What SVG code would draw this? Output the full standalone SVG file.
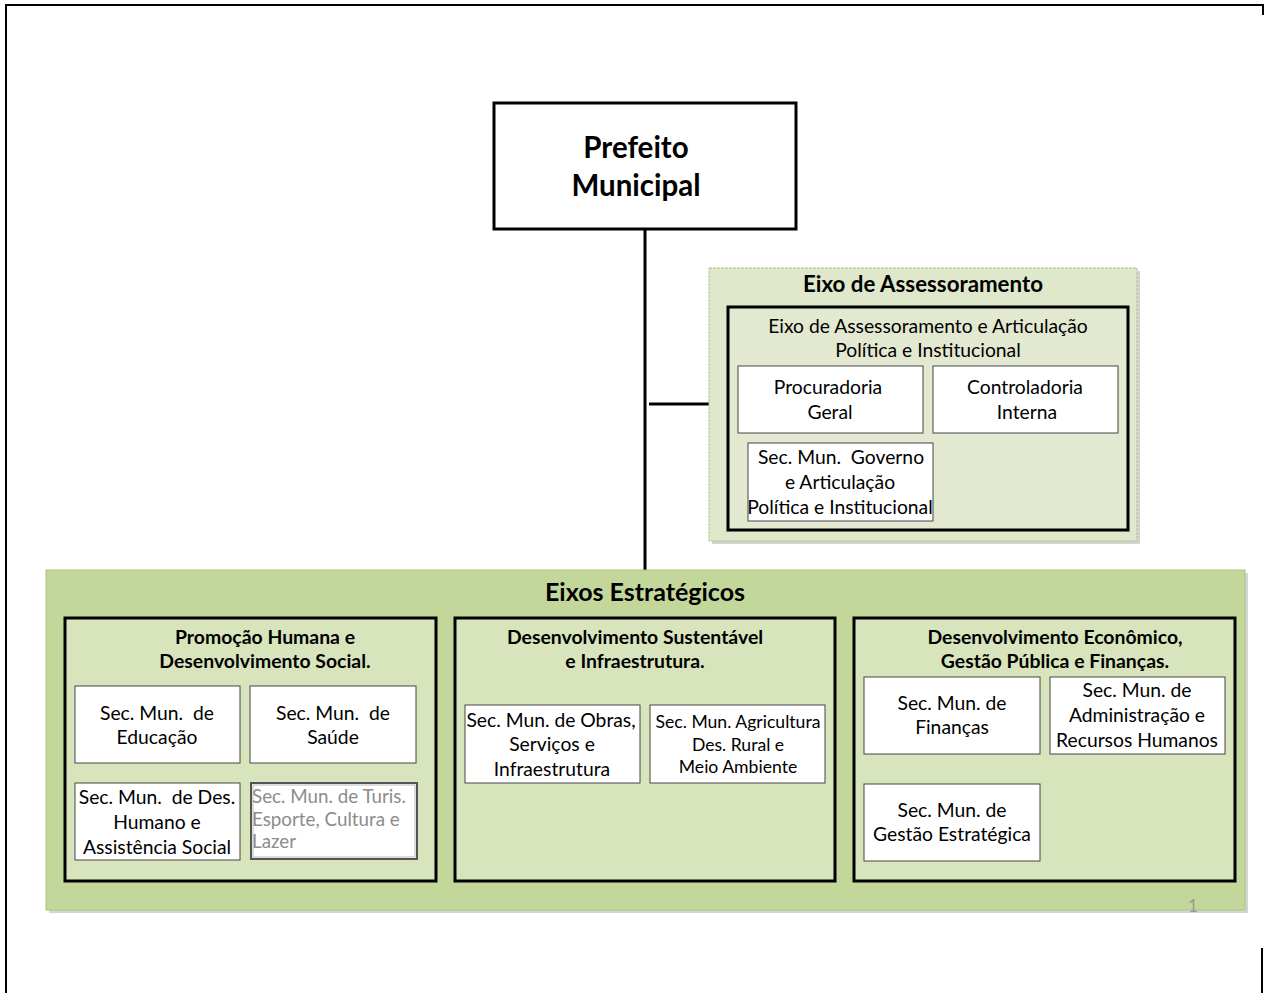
<svg xmlns="http://www.w3.org/2000/svg" width="1267" height="993" viewBox="0 0 1267 993">
<style>
text{font-family:Lato,"Open Sans","Liberation Sans",sans-serif;fill:#000;text-anchor:middle;white-space:pre}
.b{font-weight:bold}
.t18{font-size:19.3px}
.tb{font-size:19.4px;font-weight:bold}
.box{fill:#fff;stroke:#444;stroke-width:1}
.col{fill:#d8e4bc;stroke:#000;stroke-width:3}
.shadow{fill:#b8b8b8;opacity:0.6}
.conn{stroke:#000;stroke-width:3;fill:none}
</style>
<rect width="1267" height="993" fill="#fff"/>
<g id="page-border" stroke="#000" stroke-width="2" fill="none">
<polyline points="6,993 6,5 1263,5 1263,15"/>
<line x1="1262" y1="948" x2="1262" y2="993"/>
</g>
<g id="connectors">
<line class="conn" x1="645" y1="229" x2="645" y2="570"/>
<line class="conn" x1="649" y1="404" x2="710" y2="404"/>
</g>
<g id="prefeito">
<rect x="494" y="103" width="302" height="126" fill="#fff" stroke="#000" stroke-width="3"/>
<text class="b" x="636" y="158" font-size="29.5">Prefeito</text>
<text class="b" x="636" y="196" font-size="29.5">Municipal</text>
</g>
<g id="eixo-assessoramento">
<rect class="shadow" x="712" y="271" width="428" height="273"/>
<rect x="709" y="268" width="428" height="273" fill="#dfe8ca" stroke="#a9c77a" stroke-width="1" stroke-dasharray="3,1"/>
<text class="b" x="923" y="292" font-size="22.3">Eixo de Assessoramento</text>
<rect x="728" y="307" width="400" height="223" fill="#e3e8d1" stroke="#000" stroke-width="3"/>
<text class="t18" x="928" y="333">Eixo de Assessoramento e Articulação</text>
<text class="t18" x="928" y="357">Política e Institucional</text>
</g>
<g id="procuradoria">
<rect class="box" x="738" y="366" width="185" height="67"/>
<text class="t18" x="828" y="394">Procuradoria</text>
<text class="t18" x="830" y="419">Geral</text>
</g>
<g id="controladoria">
<rect class="box" x="933" y="366" width="185" height="67"/>
<text class="t18" x="1025" y="394">Controladoria</text>
<text class="t18" x="1027" y="419">Interna</text>
</g>
<g id="sec-governo">
<rect class="box" x="748" y="443" width="185" height="78"/>
<text class="t18" x="841" y="464">Sec. Mun.  Governo</text>
<text class="t18" x="840" y="489">e Articulação</text>
<text class="t18" x="840" y="514">Política e Institucional</text>
</g>
<g id="eixos-estrategicos">
<rect class="shadow" x="49" y="573" width="1199" height="340"/>
<rect x="46" y="570" width="1199" height="340" fill="#c4d79b" stroke="#a9c77a" stroke-width="1"/>
<text class="b" x="645" y="601" font-size="25">Eixos Estratégicos</text>
</g>
<g id="promocao-humana">
<rect class="col" x="65" y="618" width="371" height="263"/>
<text class="tb" x="265" y="644">Promoção Humana e</text>
<text class="tb" x="265" y="668">Desenvolvimento Social.</text>
</g>
<g id="sec-educacao">
<rect class="box" x="75" y="686" width="165" height="77"/>
<text class="t18" x="157" y="720">Sec. Mun.  de</text>
<text class="t18" x="157" y="744">Educação</text>
</g>
<g id="sec-saude">
<rect class="box" x="250" y="686" width="166" height="77"/>
<text class="t18" x="333" y="720">Sec. Mun.  de</text>
<text class="t18" x="333" y="744">Saúde</text>
</g>
<g id="sec-des-humano">
<rect class="box" x="75" y="783" width="165" height="77"/>
<text class="t18" x="157" y="804">Sec. Mun.  de Des.</text>
<text class="t18" x="157" y="829">Humano e</text>
<text class="t18" x="157" y="854">Assistência Social</text>
</g>
<g id="sec-turismo">
<rect x="251" y="783" width="166" height="76" fill="#fff" stroke="#555" stroke-width="2"/>
<rect x="253" y="785" width="162" height="72" fill="none" stroke="#bbb" stroke-width="1"/>
<text x="252" y="803" font-size="18.8" style="text-anchor:start;fill:#8c8c8c">Sec. Mun. de Turis.</text>
<text x="252" y="826" font-size="18.8" style="text-anchor:start;fill:#8c8c8c">Esporte, Cultura e</text>
<text x="252" y="848" font-size="18.8" style="text-anchor:start;fill:#8c8c8c">Lazer</text>
</g>
<g id="des-sustentavel">
<rect class="col" x="455" y="618" width="380" height="263"/>
<text class="tb" x="635" y="644">Desenvolvimento Sustentável</text>
<text class="tb" x="635" y="668">e Infraestrutura.</text>
</g>
<g id="sec-obras">
<rect class="box" x="465" y="705" width="175" height="78"/>
<text class="t18" x="551" y="727">Sec. Mun. de Obras,</text>
<text class="t18" x="552" y="751">Serviços e</text>
<text class="t18" x="552" y="776">Infraestrutura</text>
</g>
<g id="sec-agricultura">
<rect class="box" x="650" y="705" width="175" height="78"/>
<text x="738" y="728" font-size="17.6">Sec. Mun. Agricultura</text>
<text x="738" y="751" font-size="17.6">Des. Rural e</text>
<text x="738" y="773" font-size="17.6">Meio Ambiente</text>
</g>
<g id="des-economico">
<rect class="col" x="854" y="618" width="381" height="263"/>
<text class="tb" x="1055" y="644">Desenvolvimento Econômico,</text>
<text class="tb" x="1055" y="668">Gestão Pública e Finanças.</text>
</g>
<g id="sec-financas">
<rect class="box" x="864" y="677" width="176" height="77"/>
<text class="t18" x="952" y="710">Sec. Mun. de</text>
<text class="t18" x="952" y="734">Finanças</text>
</g>
<g id="sec-administracao">
<rect class="box" x="1050" y="677" width="175" height="77"/>
<text class="t18" x="1137" y="697">Sec. Mun. de</text>
<text class="t18" x="1137" y="722">Administração e</text>
<text class="t18" x="1137" y="747">Recursos Humanos</text>
</g>
<g id="sec-gestao-estrategica">
<rect class="box" x="864" y="784" width="176" height="77"/>
<text class="t18" x="952" y="817">Sec. Mun. de</text>
<text class="t18" x="952" y="841">Gestão Estratégica</text>
</g>
<text x="1193" y="912" font-size="17" style="fill:#999">1</text>
</svg>
